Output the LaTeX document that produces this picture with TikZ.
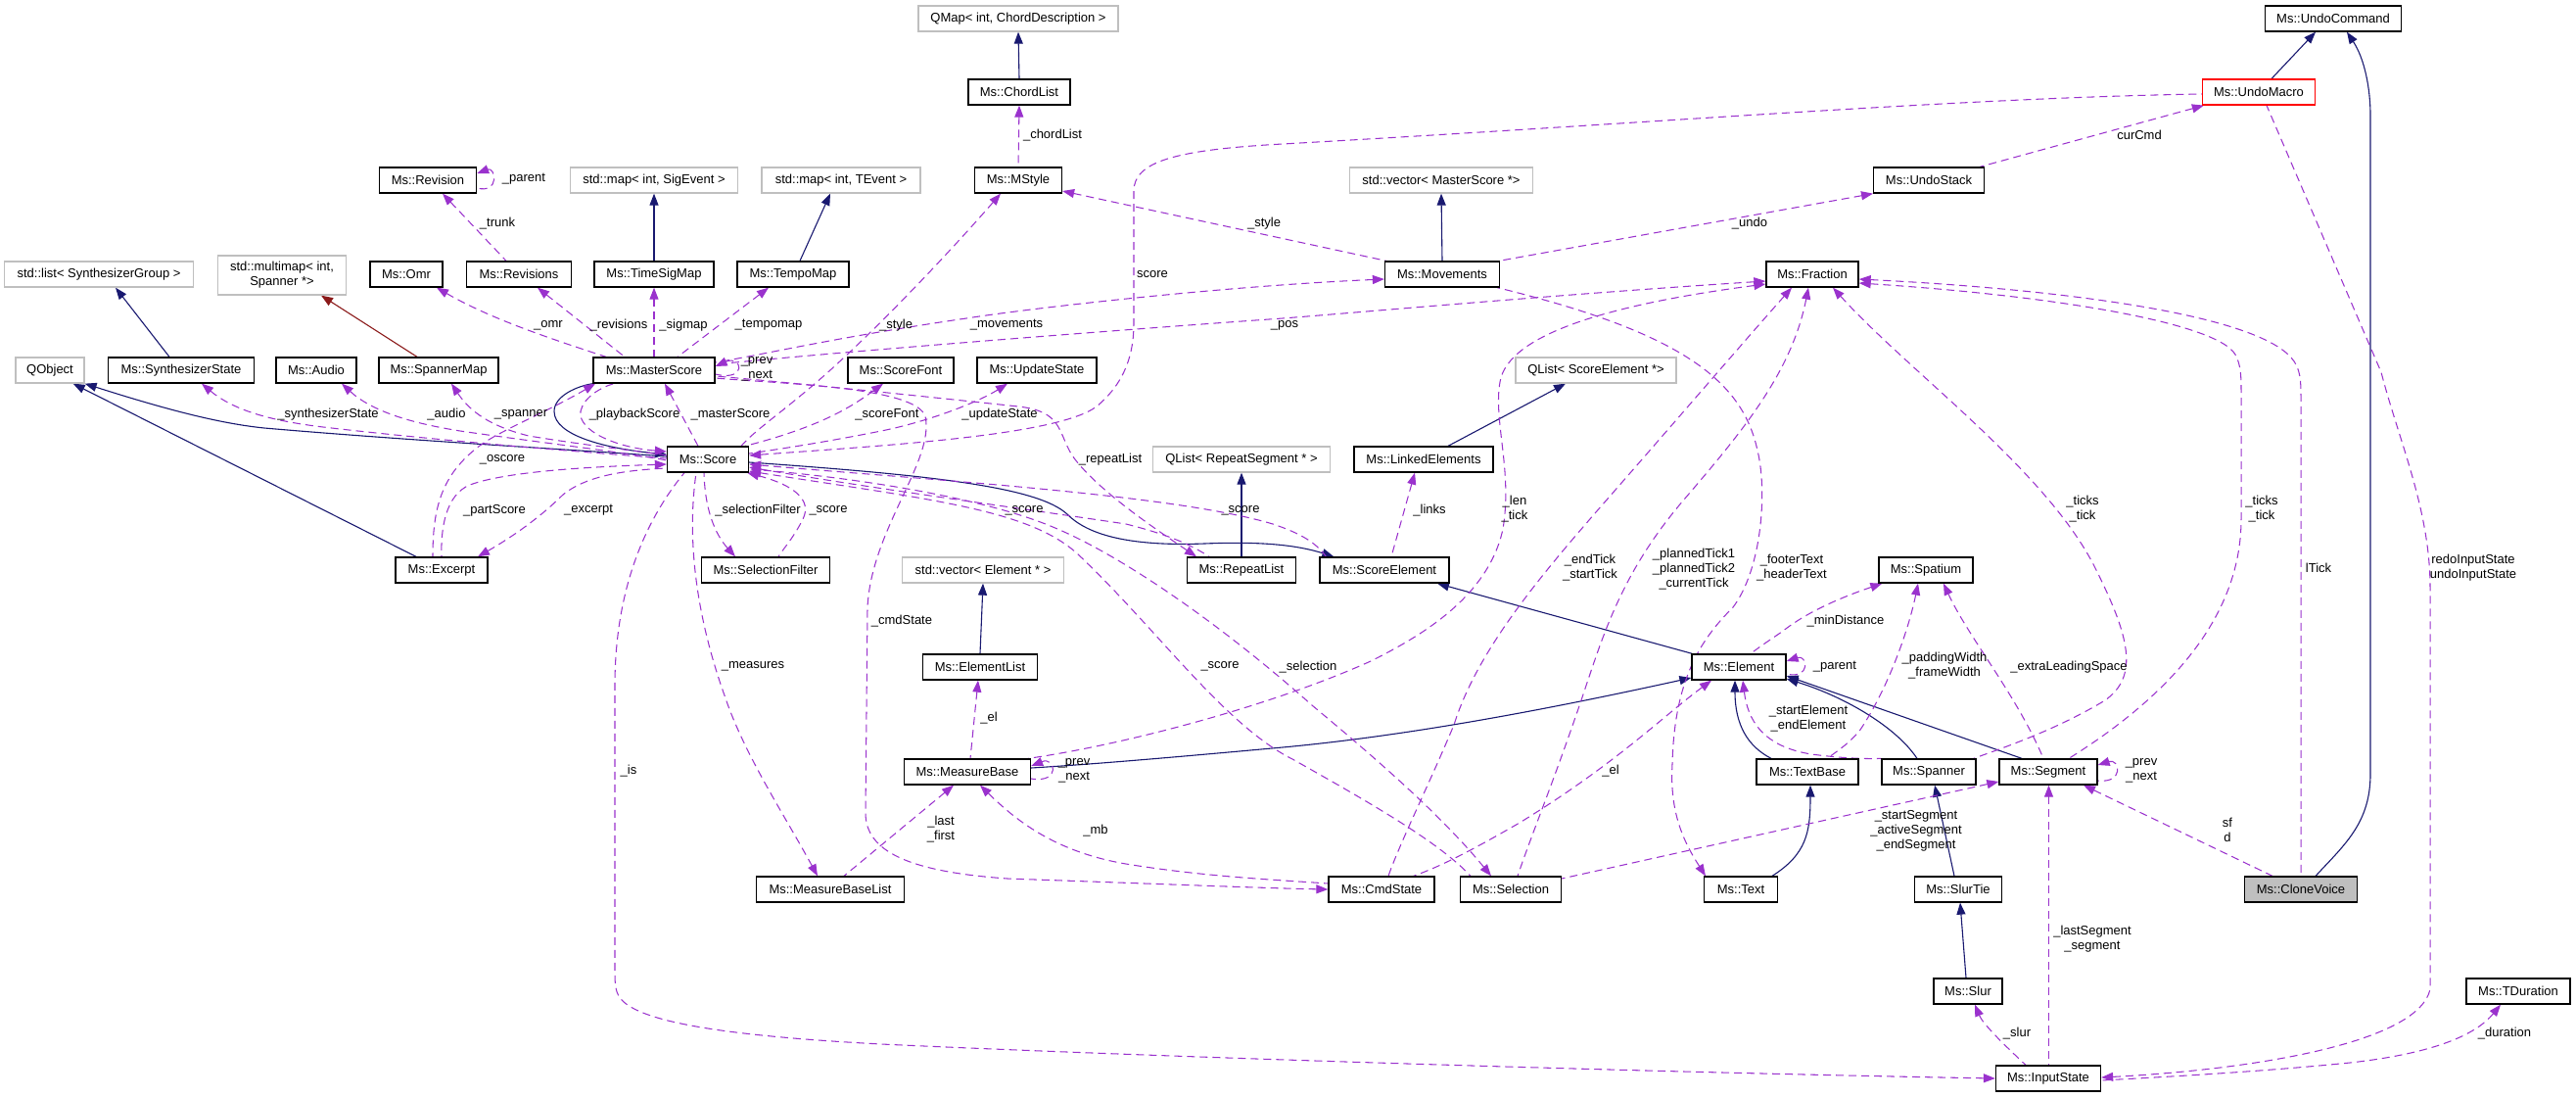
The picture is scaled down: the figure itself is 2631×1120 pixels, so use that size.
\documentclass[tikz,border=0pt]{standalone}
\usepackage{fontspec}
\setmainfont{Liberation Sans}
\usetikzlibrary{arrows.meta}
\definecolor{navyc}{HTML}{191970}
\definecolor{purp}{HTML}{9A32CD}
\definecolor{redc}{HTML}{8B1A1A}
\definecolor{extgray}{HTML}{BFBFBF}
\definecolor{rootgray}{HTML}{BFBFBF}
\pgfdeclarelayer{bg}
\pgfsetlayers{bg,main}
\tikzset{
 cls/.style={draw=black, line width=1.3pt, fill=white, minimum height=26pt, inner sep=2pt, font=\fontsize{13}{15}\selectfont},
 ext/.style={cls, draw=extgray},
 lbl/.style={inner sep=0pt, align=center, font=\fontsize{13}{15}\selectfont},
 inh/.style={draw=navyc, line width=1.1pt, {Triangle[length=12pt,width=9pt]}-},
 tmpl/.style={draw=redc, line width=1.1pt, {Triangle[length=12pt,width=9pt]}-},
 use/.style={draw=purp, line width=1.05pt, dash pattern=on 8pt off 5pt, {Triangle[length=12pt,width=9pt]}-},
}
\begin{document}
\begin{tikzpicture}[x=1pt,y=-1pt]
\useasboundingbox (0,0) rectangle (2631,1120);
% ---------------- nodes ----------------
\node[ext, minimum width=204pt] (qmap) at (1040,19) {QMap< int, ChordDescription >};
\node[cls, minimum width=139pt] (undocmd) at (2383,19) {Ms::UndoCommand};
\node[cls, minimum width=104pt] (chordlist) at (1041,94) {Ms::ChordList};
\node[cls, draw=red, minimum width=115pt] (undomacro) at (2307,94) {Ms::UndoMacro};
\node[cls, minimum width=99pt] (revision) at (437,184) {Ms::Revision};
\node[ext, minimum width=171pt] (mapsig) at (668,184) {std::map< int, SigEvent >};
\node[ext, minimum width=162pt] (maptev) at (859,184) {std::map< int, TEvent >};
\node[cls, minimum width=89pt] (mstyle) at (1040,184) {Ms::MStyle};
\node[ext, minimum width=187pt] (vecms) at (1472,184) {std::vector< MasterScore *>};
\node[cls, minimum width=113pt] (undostack) at (1970,184) {Ms::UndoStack};
\node[ext, minimum width=193pt] (listsg) at (101,280) {std::list< SynthesizerGroup >};
\node[ext, minimum width=131pt, minimum height=40pt, align=center] (multimap) at (288,281) {std::multimap< int,\\Spanner *>};
\node[cls, minimum width=74pt] (omr) at (415,280) {Ms::Omr};
\node[cls, minimum width=107pt] (revisions) at (530,280) {Ms::Revisions};
\node[cls, minimum width=122pt] (timesig) at (668,280) {Ms::TimeSigMap};
\node[cls, minimum width=114pt] (tempomap) at (810,280) {Ms::TempoMap};
\node[cls, minimum width=117pt] (movements) at (1473,280) {Ms::Movements};
\node[cls, minimum width=94pt] (fraction) at (1851,280) {Ms::Fraction};
\node[ext, minimum width=70pt] (qobject) at (51,378) {QObject};
\node[cls, minimum width=149pt] (synth) at (185,378) {Ms::SynthesizerState};
\node[cls, minimum width=82pt] (audio) at (323,378) {Ms::Audio};
\node[cls, minimum width=122pt] (spannermap) at (448,378) {Ms::SpannerMap};
\node[cls, minimum width=124pt] (master) at (668,378) {Ms::MasterScore};
\node[cls, minimum width=108pt] (scorefont) at (920,378) {Ms::ScoreFont};
\node[cls, minimum width=122pt] (updatestate) at (1059,378) {Ms::UpdateState};
\node[ext, minimum width=164pt] (qlistse) at (1630,378) {QList< ScoreElement *>};
\node[cls, minimum width=83pt] (score) at (723,469) {Ms::Score};
\node[ext, minimum width=181pt] (qlistrs) at (1268,469) {QList< RepeatSegment * >};
\node[cls, minimum width=142pt] (linked) at (1454,469) {Ms::LinkedElements};
\node[cls, minimum width=94pt] (excerpt) at (451,582) {Ms::Excerpt};
\node[cls, minimum width=131pt] (selfilter) at (782,582) {Ms::SelectionFilter};
\node[ext, minimum width=165pt] (vecel) at (1004,582) {std::vector< Element * >};
\node[cls, minimum width=111pt] (repeatlist) at (1268,582) {Ms::RepeatList};
\node[cls, minimum width=132pt] (scoreelem) at (1414,582) {Ms::ScoreElement};
\node[cls, minimum width=96pt] (spatium) at (1967,582) {Ms::Spatium};
\node[cls, minimum width=117pt] (elementlist) at (1001,681) {Ms::ElementList};
\node[cls, minimum width=96pt] (element) at (1776,681) {Ms::Element};
\node[cls, minimum width=129pt] (measurebase) at (988,788) {Ms::MeasureBase};
\node[cls, minimum width=104pt] (textbase) at (1846,788) {Ms::TextBase};
\node[cls, minimum width=96pt] (spanner) at (1970,788) {Ms::Spanner};
\node[cls, minimum width=100pt] (segment) at (2092,788) {Ms::Segment};
\node[cls, minimum width=151pt] (mbl) at (848,908) {Ms::MeasureBaseList};
\node[cls, minimum width=108pt] (cmdstate) at (1411,908) {Ms::CmdState};
\node[cls, minimum width=103pt] (selection) at (1543,908) {Ms::Selection};
\node[cls, minimum width=75pt] (text) at (1778,908) {Ms::Text};
\node[cls, minimum width=89pt] (slurtie) at (2000,908) {Ms::SlurTie};
\node[cls, fill=rootgray, minimum width=115pt] (clonevoice) at (2350,908) {Ms::CloneVoice};
\node[cls, minimum width=70pt] (slur) at (2010,1012) {Ms::Slur};
\node[cls, minimum width=106pt] (tduration) at (2572,1012) {Ms::TDuration};
\node[cls, minimum width=107pt] (inputstate) at (2092,1101) {Ms::InputState};
% ---------------- edges ----------------
\begin{pgfonlayer}{bg}
% inheritance
\draw[inh] (qmap.south) -- (chordlist.north);
\draw[inh] (mapsig.south) -- (timesig.north);
\draw[inh] ([xshift=-11pt]maptev.south) -- ([xshift=7pt]tempomap.north);
\draw[inh] (vecms.south) -- (movements.north);
\draw[inh] ([xshift=17pt]listsg.south) -- ([xshift=-12pt]synth.north);
\draw[tmpl] ([xshift=40pt]multimap.south) -- ([xshift=-22pt]spannermap.north);
\draw[inh] ([xshift=-18pt]undocmd.south) -- ([xshift=13pt]undomacro.north);
\draw[inh] ([xshift=14pt]undocmd.south) .. controls (2415,60) and (2421,90) .. (2421,118) -- (2421,790) .. controls (2421,840) and (2395,862) .. ([xshift=15pt]clonevoice.north);
\draw[inh] (qobject.south east) .. controls (160,415) and (220,432) .. (270,437) .. controls (420,450) and (600,460) .. ([yshift=3pt]score.west);
\draw[inh] ([xshift=-12pt]qobject.south east) -- ([xshift=-26pt]excerpt.north);
\draw[inh] ([yshift=5pt]score.west) .. controls (620,458) and (566,445) .. (566,420) .. controls (566,404) and (590,394) .. (master.south west);
\draw[inh] ([xshift=15pt]scoreelem.north west) .. controls (1320,555) and (1280,553) .. (1230,555) .. controls (1150,558) and (1110,545) .. (1090,525) .. controls (1060,497) and (950,485) .. ([yshift=-3pt]score.east);
\draw[inh] ([xshift=54pt]scoreelem.south) -- ([xshift=1pt]element.north west);
\draw[inh] ([xshift=-31pt]qlistse.south) -- ([xshift=25pt]linked.north);
\draw[inh] ([yshift=-11pt]element.west) .. controls (1600,720) and (1450,750) .. (1310,763) .. controls (1200,773) and (1120,780) .. ([yshift=4pt]measurebase.east);
\draw[inh] ([xshift=-4pt]element.south) .. controls (1772,740) and (1785,762) .. ([xshift=-37pt]textbase.north);
\draw[inh] ([yshift=-12pt]element.east) .. controls (1880,710) and (1935,740) .. ([xshift=-12pt]spanner.north);
\draw[inh] ([yshift=-9pt]element.east) -- ([xshift=-27pt]segment.north);
\draw[inh] ([xshift=3pt]textbase.south) .. controls (1849,850) and (1845,872) .. ([xshift=32pt]text.north);
\draw[inh] ([xshift=6pt]spanner.south) -- ([xshift=-4pt]slurtie.north);
\draw[inh] ([xshift=2pt]slurtie.south) -- ([xshift=-2pt]slur.north);
\draw[inh] (vecel.south) -- (elementlist.north);
\draw[inh] (qlistrs.south) -- (repeatlist.north);
% usage
\draw[use] ([xshift=15pt]revision.south) -- ([xshift=-13pt]revisions.north);
\draw[use] ([yshift=7pt]revision.east) .. controls (506,170) and (511,198) .. ([yshift=-8pt]revision.east);
\draw[use] (chordlist.south) -- (mstyle.north);
\draw[use] ([xshift=-18pt]mstyle.south) .. controls (950,280) and (880,350) .. (840,385) .. controls (800,420) and (770,440) .. ([xshift=34pt]score.north);
\draw[use] ([yshift=-11pt]mstyle.east) -- ([xshift=-57pt]movements.north);
\draw[use] ([xshift=-57pt]undostack.south) -- ([xshift=58pt]movements.north);
\draw[use] ([xshift=2pt]undomacro.south west) -- ([xshift=52pt]undostack.north);
\draw[use] ([yshift=4pt]score.east) .. controls (900,455) and (1080,445) .. (1120,415) .. controls (1150,390) and (1158,360) .. (1158,330) -- (1158,195) .. controls (1158,165) and (1200,153) .. (1310,147) .. controls (1700,125) and (2000,100) .. ([yshift=-2pt]undomacro.west);
\draw[use] ([yshift=1pt]inputstate.east) .. controls (2300,1092) and (2470,1065) .. (2482,1010) -- (2482,600) .. controls (2482,520) and (2450,450) .. (2432,380) -- ([xshift=8pt]undomacro.south);
\draw[use] ([yshift=-5pt]fraction.east) .. controls (2100,295) and (2300,320) .. (2340,365) .. controls (2350,376) and (2350,390) .. (2350,405) -- (clonevoice.north);
\draw[use] ([yshift=-9pt]fraction.east) .. controls (2100,302) and (2265,330) .. (2283,362) .. controls (2289,373) and (2289,385) .. (2289,400) -- (2289,530) .. controls (2289,640) and (2200,720) .. ([xshift=21pt]segment.north);
\draw[use] ([xshift=21pt]fraction.south) .. controls (1950,380) and (2090,480) .. (2140,580) .. controls (2175,650) and (2185,690) .. (2150,715) .. controls (2100,745) and (2050,762) .. ([xshift=-3pt]spanner.north east);
\draw[use] ([xshift=-36pt]text.north) .. controls (1720,860) and (1705,830) .. (1708,780) .. controls (1710,690) and (1740,650) .. (1770,620) .. controls (1800,580) and (1805,500) .. (1795,460) .. controls (1780,390) and (1720,340) .. ([xshift=-3pt]movements.south east);
\draw[use] ([yshift=-7pt]fraction.west) .. controls (1600,300) and (1400,318) .. (1310,325) .. controls (1100,340) and (850,360) .. ([yshift=6pt]master.east);
\draw[use] ([yshift=-5pt]movements.west) .. controls (1250,292) and (1050,315) .. (987,325) .. controls (850,345) and (780,362) .. ([yshift=8pt]master.east);
\draw[use] ([yshift=4pt]master.east) .. controls (758,362) and (764,390) .. ([yshift=-4pt]master.east);
\draw[use] ([xshift=31pt]omr.south) .. controls (500,325) and (560,345) .. ([xshift=-49pt]master.north);
\draw[use] ([xshift=19pt]revisions.south) -- ([xshift=-30pt]master.north);
\draw[use] (timesig.south) -- (master.north);
\draw[use] ([xshift=-25pt]tempomap.south) -- ([xshift=24pt]master.north);
\draw[use] ([xshift=11pt]master.south) -- ([xshift=-10pt]score.north);
\draw[use] ([yshift=8pt]score.west) .. controls (630,457) and (590,440) .. (593,420) .. controls (596,405) and (615,395) .. ([xshift=-41pt]master.south);
\draw[use] ([xshift=-60pt]master.south) .. controls (560,420) and (510,440) .. (490,455) .. controls (450,485) and (442,520) .. ([xshift=-9pt]excerpt.north);
\draw[use] ([xshift=21pt]synth.south) .. controls (240,420) and (280,430) .. (330,436) .. controls (450,450) and (600,462) .. ([yshift=1pt]score.west);
\draw[use] ([xshift=26pt]audio.south) .. controls (380,420) and (420,432) .. (470,440) .. controls (560,453) and (640,462) .. ([yshift=-1pt]score.west);
\draw[use] ([xshift=13pt]spannermap.south) .. controls (480,420) and (500,435) .. (540,445) .. controls (600,455) and (650,460) .. ([yshift=4pt]score.west);
\draw[use] ([yshift=-5pt]score.west) .. controls (620,476) and (520,480) .. (480,495) .. controls (455,505) and (450,540) .. (excerpt.north);
\draw[use] ([xshift=37pt]excerpt.north) .. controls (520,550) and (550,530) .. (575,505) .. controls (600,485) and (640,480) .. ([yshift=-9pt]score.west);
\draw[use] ([xshift=-31pt]selfilter.north) .. controls (730,545) and (720,520) .. ([xshift=-4pt]score.south);
\draw[use] ([xshift=-2pt]score.south east) .. controls (810,495) and (830,510) .. (820,530) .. controls (810,550) and (800,560) .. ([xshift=13pt]selfilter.north);
\draw[use] ([xshift=-18pt]scorefont.south) .. controls (870,415) and (840,435) .. ([xshift=-4pt]score.north east);
\draw[use] ([xshift=-30pt]updatestate.south) .. controls (1000,410) and (950,430) .. (900,440) .. controls (850,450) and (800,458) .. ([yshift=6pt]score.east);
\draw[use] ([xshift=-46pt]repeatlist.north) .. controls (1180,540) and (1120,500) .. (1095,465) .. controls (1080,440) and (1085,420) .. (1040,415) .. controls (900,400) and (800,390) .. ([yshift=-6pt]master.east);
\draw[use] ([yshift=-8pt]score.east) .. controls (900,500) and (1050,520) .. (1150,535) .. controls (1190,545) and (1215,555) .. ([xshift=-33pt]repeatlist.north);
\draw[use] ([yshift=-5pt]score.east) .. controls (950,490) and (1200,505) .. (1300,535) .. controls (1330,545) and (1345,555) .. ([xshift=7pt]scoreelem.north west);
\draw[use] ([yshift=-12pt]score.east) .. controls (950,510) and (1050,520) .. (1100,565) .. controls (1180,640) and (1250,740) .. (1320,775) .. controls (1400,820) and (1470,860) .. ([xshift=-41pt]selection.north);
\draw[use] ([xshift=-20pt]selection.north) .. controls (1470,830) and (1400,770) .. (1340,720) .. controls (1250,640) and (1150,570) .. (1080,540) .. controls (1000,505) and (850,485) .. ([yshift=-10pt]score.east);
\draw[use] (cmdstate.west) .. controls (1300,907) and (1200,903) .. (1029,897) .. controls (930,890) and (884,870) .. (884,830) -- (886,620) .. controls (890,540) and (955,470) .. (945,425) .. controls (935,395) and (800,392) .. ([yshift=-8pt]master.east);
\draw[use] ([xshift=-13pt]mbl.north) .. controls (800,830) and (760,770) .. (740,710) .. controls (715,640) and (700,560) .. ([xshift=-12pt]score.south);
\draw[use] ([xshift=-14pt]measurebase.south) -- ([xshift=14pt]mbl.north);
\draw[use] ([yshift=6pt]measurebase.east) .. controls (1078,772) and (1084,800) .. ([yshift=-7pt]measurebase.east);
\draw[use] ([xshift=-2pt]elementlist.south) -- ([xshift=3pt]measurebase.north);
\draw[use] ([xshift=13pt]measurebase.south) .. controls (1040,840) and (1080,870) .. (1150,882) .. controls (1230,895) and (1300,898) .. ([yshift=6pt]cmdstate.west);
\draw[use] ([yshift=-10pt]fraction.west) .. controls (1650,310) and (1540,340) .. (1532,390) .. controls (1525,430) and (1545,480) .. (1535,540) .. controls (1520,610) and (1450,650) .. (1400,675) .. controls (1300,720) and (1150,760) .. ([xshift=-3pt]measurebase.north east);
\draw[use] ([xshift=-21pt]fraction.south) .. controls (1780,350) and (1720,420) .. (1650,500) .. controls (1580,580) and (1510,660) .. (1485,740) .. controls (1460,800) and (1430,860) .. ([xshift=7pt]cmdstate.north);
\draw[use] ([xshift=-4pt]fraction.south) .. controls (1830,380) and (1780,440) .. (1720,510) .. controls (1660,580) and (1640,640) .. (1620,700) .. controls (1590,790) and (1565,850) .. ([xshift=7pt]selection.north);
\draw[use] ([xshift=-28pt]element.south) .. controls (1700,730) and (1650,780) .. (1552,840) .. controls (1500,870) and (1470,885) .. ([xshift=-22pt]cmdstate.north east);
\draw[use] ([yshift=7pt]segment.east) .. controls (2165,774) and (2170,800) .. ([yshift=-9pt]segment.east);
\draw[use] ([yshift=-10pt]segment.west) -- ([yshift=11pt]selection.east);
\draw[use] ([xshift=0.5pt]segment.south) -- ([xshift=0.5pt]inputstate.north);
\draw[use] ([xshift=7pt]slur.south) .. controls (2025,1045) and (2045,1065) .. ([xshift=-23pt]inputstate.north);
\draw[use] ([xshift=-18pt]tduration.south) .. controls (2530,1055) and (2490,1075) .. (2400,1085) .. controls (2300,1095) and (2200,1100) .. ([yshift=-2pt]inputstate.east);
\draw[use] (inputstate.west) .. controls (1700,1095) and (1200,1080) .. (900,1066) .. controls (750,1058) and (660,1045) .. (636,1022) .. controls (628,1014) and (628,1005) .. (628,990) -- (628,700) .. controls (628,600) and (660,530) .. ([xshift=-24pt]score.south);
\draw[use] ([xshift=36pt]segment.south) -- ([xshift=-29pt]clonevoice.north);
\draw[use] ([yshift=6pt]element.east) .. controls (1846,668) and (1850,694) .. ([yshift=-7pt]element.east);
\draw[use] ([xshift=4pt]spatium.south west) .. controls (1880,610) and (1845,625) .. (1820,645) .. controls (1805,655) and (1795,662) .. ([xshift=12pt]element.north);
\draw[use] ([xshift=4pt]element.south) .. controls (1785,735) and (1800,762) .. (1850,770) .. controls (1880,774) and (1905,775) .. (spanner.north west);
\draw[use] ([xshift=-8pt]spatium.south) .. controls (1950,640) and (1930,700) .. (1900,745) .. controls (1890,758) and (1875,768) .. ([xshift=20pt]textbase.north);
\draw[use] ([xshift=18pt]spatium.south) .. controls (2010,650) and (2060,710) .. ([xshift=-5pt]segment.north);
\draw[use] ([xshift=-9pt]linked.south) -- ([xshift=7pt]scoreelem.north);
\end{pgfonlayer}
% ---------------- labels ----------------
\node[lbl] (l_trunk) at (508,228) {\_trunk};
\node[lbl] (l_rparent) at (535,183) {\_parent};
\node[lbl] (l_omr) at (560,332) {\_omr};
\node[lbl] (l_revisions) at (632,332) {\_revisions};
\node[lbl] (l_sigmap) at (698,332) {\_sigmap};
\node[lbl] (l_tempomap) at (785,332) {\_tempomap};
\node[lbl] (l_style1) at (915,332) {\_style};
\node[lbl] (l_movements) at (1028,332) {\_movements};
\node[lbl] (l_pos) at (1312,332) {\_pos};
\node[lbl] (l_score0) at (1177,280) {score};
\node[lbl] (l_chord) at (1075,138) {\_chordList};
\node[lbl] (l_style2) at (1291,228) {\_style};
\node[lbl] (l_undo) at (1787,228) {\_undo};
\node[lbl] (l_curcmd) at (2185,138) {curCmd};
\node[lbl] (l_synth) at (335,423) {\_synthesizerState};
\node[lbl] (l_audio) at (456,423) {\_audio};
\node[lbl] (l_spanner) at (532,423) {\_spanner};
\node[lbl] (l_playback) at (648,423) {\_playbackScore};
\node[lbl] (l_master) at (746,423) {\_masterScore};
\node[lbl] (l_scorefont) at (906,423) {\_scoreFont};
\node[lbl] (l_update) at (1021,423) {\_updateState};
\node[lbl] (l_prevnext1) at (773,377) {\_prev\\\_next};
\node[lbl] (l_oscore) at (513,469) {\_oscore};
\node[lbl] (l_repeat) at (1134,469) {\_repeatList};
\node[lbl] (l_partscore) at (505,521) {\_partScore};
\node[lbl] (l_excerpt) at (601,521) {\_excerpt};
\node[lbl] (l_selfilter) at (774,521) {\_selectionFilter};
\node[lbl] (l_score1) at (846,521) {\_score};
\node[lbl] (l_score2) at (1046,521) {\_score};
\node[lbl] (l_score3) at (1267,521) {\_score};
\node[lbl] (l_links) at (1460,521) {\_links};
\node[lbl] (l_len) at (1547,520) {\_len\\\_tick};
\node[lbl] (l_endtick) at (1624,580) {\_endTick\\\_startTick};
\node[lbl] (l_planned) at (1730,581) {\_plannedTick1\\\_plannedTick2\\\_currentTick};
\node[lbl] (l_footer) at (1830,580) {\_footerText\\\_headerText};
\node[lbl] (l_ticks1) at (2127,520) {\_ticks\\\_tick};
\node[lbl] (l_ticks2) at (2310,520) {\_ticks\\\_tick};
\node[lbl] (l_ltick) at (2368,580) {lTick};
\node[lbl] (l_redo) at (2526,580) {redoInputState\\undoInputState};
\node[lbl] (l_cmdstate) at (921,634) {\_cmdState};
\node[lbl] (l_mindist) at (1885,634) {\_minDistance};
\node[lbl] (l_padding) at (1986,680) {\_paddingWidth\\\_frameWidth};
\node[lbl] (l_extra) at (2113,681) {\_extraLeadingSpace};
\node[lbl] (l_measures) at (769,680) {\_measures};
\node[lbl] (l_el1) at (1010,733) {\_el};
\node[lbl] (l_selection) at (1336,681) {\_selection};
\node[lbl] (l_score4) at (1246,680) {\_score};
\node[lbl] (l_eparent) at (1874,681) {\_parent};
\node[lbl] (l_startel) at (1847,734) {\_startElement\\\_endElement};
\node[lbl] (l_is) at (642,787) {\_is};
\node[lbl] (l_prevnext2) at (1097,787) {\_prev\\\_next};
\node[lbl] (l_lastfirst) at (961,847) {\_last\\\_first};
\node[lbl] (l_mb) at (1119,848) {\_mb};
\node[lbl] (l_el2) at (1645,787) {\_el};
\node[lbl] (l_startseg) at (1957,848) {\_startSegment\\\_activeSegment\\\_endSegment};
\node[lbl] (l_prevnext3) at (2187,787) {\_prev\\\_next};
\node[lbl] (l_sfd) at (2275,847) {sf\\d};
\node[lbl] (l_lastseg) at (2137,959) {\_lastSegment\\\_segment};
\node[lbl] (l_slur) at (2060,1055) {\_slur};
\node[lbl] (l_duration) at (2558,1055) {\_duration};
\end{tikzpicture}
\end{document}
